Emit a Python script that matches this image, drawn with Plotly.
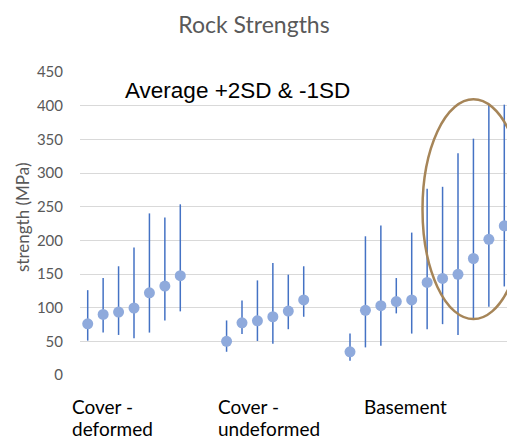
import plotly.graph_objects as go

# ---- data ----
deformed_mean = [76, 90, 93.5, 99.5, 122, 132, 147.5]
deformed_sd = [25, 27, 34, 45, 59, 51, 53]
undeformed_mean = [50, 77.5, 80.5, 86.5, 95, 111.5]
undeformed_sd = [15.5, 16.5, 30, 40, 27, 25]
basement_mean = [34.5, 96, 103, 109, 111.5, 137.5, 143.5, 149.5, 173, 201.5, 221.5]
basement_sd = [13.5, 55, 59.5, 17.5, 50, 69.5, 68, 90, 89, 100, 90]

group_line1 = ["Cover -", "Cover -", "Basement"]
group_line2 = ["deformed", "undeformed", ""]
y_ticks = [0, 50, 100, 150, 200, 250, 300, 350, 400, 450]

# category slots (with two empty gap slots between groups)
def_cats = [f"D{i+1}" for i in range(len(deformed_mean))]
und_cats = [f"U{i+1}" for i in range(len(undeformed_mean))]
bas_cats = [f"B{i+1}" for i in range(len(basement_mean))]
gap1 = ["_g1", "_g2"]
gap2 = ["_g3", "_g4"]
all_cats = def_cats + gap1 + und_cats + gap2 + bas_cats
n_slots = len(all_cats)

x_vals = def_cats + und_cats + bas_cats
means = deformed_mean + undeformed_mean + basement_mean
sds = deformed_sd + undeformed_sd + basement_sd

# page has an 8px body margin; figure is sized to fit the window
W, H = 507, 433
ML, MR, MT, MB = 72, 3, 64, 66
PW, PH = W - ML - MR, H - MT - MB

fig = go.Figure()
fig.add_trace(go.Scatter(
    x=x_vals, y=means, mode="markers",
    marker=dict(symbol="circle", size=11, color="#8FAADC"),
    error_y=dict(type="data", symmetric=False,
                 array=[2 * s for s in sds], arrayminus=sds,
                 color="#4472C4", thickness=1.5, width=0),
    showlegend=False, hoverinfo="x+y",
))

# group labels under the axis
group_starts = [0, len(def_cats) + 2, len(def_cats) + 2 + len(und_cats) + 2]
label_offsets = [-1.12, -0.68, 0.77]
for s, off, l1, l2 in zip(group_starts, label_offsets, group_line1, group_line2):
    xp = (s + off + 0.5) / n_slots
    fig.add_annotation(x=xp, y=0, xref="paper", yref="paper", yshift=-31,
                       text=l1, showarrow=False, xanchor="left", yanchor="middle",
                       font=dict(family="Lato", size=19, color="#000000"))
    if l2:
        fig.add_annotation(x=xp, y=0, xref="paper", yref="paper", yshift=-53,
                           text=l2, showarrow=False, xanchor="left", yanchor="middle",
                           font=dict(family="Lato", size=19, color="#000000"))

fig.add_annotation(x=(123 - 8 - ML) / PW, y=(375 - 90) / PH, xref="paper", yref="paper",
                   text="Average +2SD & -1SD", showarrow=False, xanchor="left", yanchor="middle",
                   font=dict(family="Liberation Sans", size=22.5, color="#000000"))

fig.add_annotation(x=(22 - 8 - ML) / PW, y=(375 - 217) / PH, xref="paper", yref="paper",
                   text="strength (MPa)", showarrow=False, textangle=-90,
                   xanchor="center", yanchor="middle",
                   font=dict(family="Lato", size=17, color="#595959"))

# highlight ellipse
fig.add_shape(type="circle", xref="x", yref="y", x0=21.7, x1=28.3, y0=83, y1=409.5,
              line=dict(color="#A68558", width=2.5), fillcolor="rgba(0,0,0,0)")

fig.update_layout(
    width=W, height=H,
    margin=dict(l=ML, r=MR, t=MT, b=MB, pad=0),
    paper_bgcolor="white", plot_bgcolor="white",
    title=dict(text="Rock Strengths", x=(254 - 8) / W, xanchor="center",
               y=1 - (25 - 8) / H, yanchor="middle",
               font=dict(family="Lato", size=23, color="#595959")),
    xaxis=dict(type="category", categoryorder="array", categoryarray=all_cats,
               range=[-0.5, n_slots - 0.5], showticklabels=False, automargin=False,
               showgrid=False, zeroline=False, showline=False, ticks=""),
    yaxis=dict(range=[0, 450], tickvals=y_ticks, showgrid=True, gridcolor="#D9D9D9",
               gridwidth=1, zeroline=False, showline=False, ticks="", automargin=False,
               ticklabelstandoff=16,
               tickfont=dict(family="Lato", size=15, color="#595959")),
    font=dict(family="Lato"),
)

fig.write_html("out.html")
